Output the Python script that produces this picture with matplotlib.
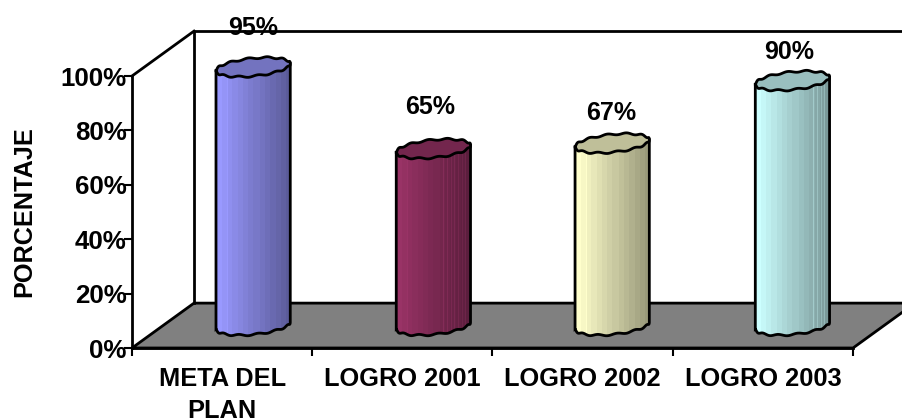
import numpy as np
import matplotlib
matplotlib.use("Agg")
import matplotlib.pyplot as plt
from matplotlib.colors import to_rgb
from matplotlib.patches import Polygon

plt.rcParams['font.family'] = ['Liberation Sans', 'DejaVu Sans']
plt.rcParams['font.weight'] = 'bold'

categorias = ['META DEL\nPLAN', 'LOGRO 2001', 'LOGRO 2002', 'LOGRO 2003']
valores = [95, 65, 67, 90]
etiquetas = ['95%', '65%', '67%', '90%']
colores = ['#9999FF', '#993366', '#FFFFCC', '#CCFFFF']
ticks_y = [0, 20, 40, 60, 80, 100]
ticks_y_txt = ['0%', '20%', '40%', '60%', '80%', '100%']

# estilo del cilindro / profundidad 3D, en unidades de datos
prof_x, prof_y = 0.344, 16.5
rx, ry, incl = 0.206, 3.3, 1.3
gap_y = [14.5, 15.5, 11, 10.5]
gap_x = [0, -0.02, -0.005, -0.02]
desp_x = [0, 0, -0.008, -0.008]
estrias = [[0.16],
           [0.16, 0.63, 0.68, 0.73, 0.78, 0.83, 0.88, 0.93],
           [0.16],
           [0.78, 0.83, 0.88, 0.93]]

fig = plt.figure(figsize=(9.03, 4.19), dpi=100)
ax = fig.add_axes([132 / 903, (419 - 348) / 419, 721 / 903, 272 / 419])
ax.set_xlim(0, 4)
ax.set_ylim(0, 100)
ax.patch.set_alpha(0)

# piso y paredes
ax.add_patch(Polygon([(0, 0), (4, 0), (4 + prof_x, prof_y), (prof_x, prof_y)], closed=True,
                     fc='#808080', ec='black', lw=2, clip_on=False, zorder=1))
ax.plot([prof_x, prof_x, 4 + prof_x], [prof_y, 100 + prof_y, 100 + prof_y], color='black', lw=2,
        clip_on=False, zorder=1, solid_joinstyle='miter')
ax.plot([0, prof_x], [100, 100 + prof_y], color='black', lw=2, clip_on=False, zorder=1)


def elipse(cx, cy, t):
    x = cx + rx * np.cos(t)
    y = cy + incl * np.cos(t) + ry * np.sin(t) + 0.3 * np.sin(12 * t)
    return x, y


for i, (v, c) in enumerate(zip(valores, colores)):
    cx = i + 0.5 + prof_x / 2 + desp_x[i]
    base = prof_y / 2
    tope = base + v
    # cuerpo: banda vertical sombreada, recortada con la forma del cilindro
    t = np.linspace(np.pi, 2 * np.pi, 80)
    xb, yb = elipse(cx, base, t)
    verts = [(cx - rx, tope - incl)] + list(zip(xb, yb)) + [(cx + rx, tope + incl)]
    body = Polygon(verts, closed=True, fc='none', ec='black', lw=2, clip_on=False, zorder=3)
    ax.add_patch(body)
    n = 74
    sombra = np.linspace(1.0, 0.6, 14)[np.arange(n) * 14 // n]
    for e in estrias[i]:
        sombra[int(e * n)] = min(1.0, sombra[int(e * n)] * 1.15)
    rgb = np.array([[np.array(to_rgb(c)) * s for s in sombra]])
    img = ax.imshow(rgb, extent=(cx - rx, cx + rx, 0, 120), aspect='auto', zorder=2,
                    interpolation='nearest')
    img.set_clip_box(fig.bbox)
    img.set_clip_path(body)
    # tapa
    t = np.linspace(0, 2 * np.pi, 200)
    xt, yt = elipse(cx, tope, t)
    ax.add_patch(Polygon(np.column_stack([xt, yt]), closed=True, fc=np.array(to_rgb(c)) * 0.75,
                         ec='black', lw=2, clip_on=False, zorder=4))
    ax.text(cx + gap_x[i], tope + gap_y[i], etiquetas[i], ha='center', va='center',
            fontsize=18, fontweight='bold', zorder=5, clip_on=False)

ax.set_xlim(0, 4)
ax.set_ylim(0, 100)

# ejes
for lado in ['top', 'right']:
    ax.spines[lado].set_visible(False)
for lado in ['left', 'bottom']:
    ax.spines[lado].set_linewidth(2)
    ax.spines[lado].set_zorder(1.5)
ax.set_yticks(ticks_y)
ax.set_yticklabels(ticks_y_txt, fontsize=18.6, fontweight='bold')
ax.set_xticks(range(5))
ax.set_xticklabels([])
ax.set_xticks([i + 0.5 for i in range(4)], minor=True)
ax.set_xticklabels(categorias, minor=True, fontsize=18.3, fontweight='bold', linespacing=1.38)
ax.tick_params(axis='x', which='major', length=6, width=1.5)
ax.tick_params(axis='x', which='minor', length=0, pad=14)
ax.tick_params(axis='y', length=6, width=1.5, pad=-2)
ax.set_ylabel('PORCENTAJE', fontsize=18.2, fontweight='bold', labelpad=17)

fig.savefig('out.png', dpi=100)
